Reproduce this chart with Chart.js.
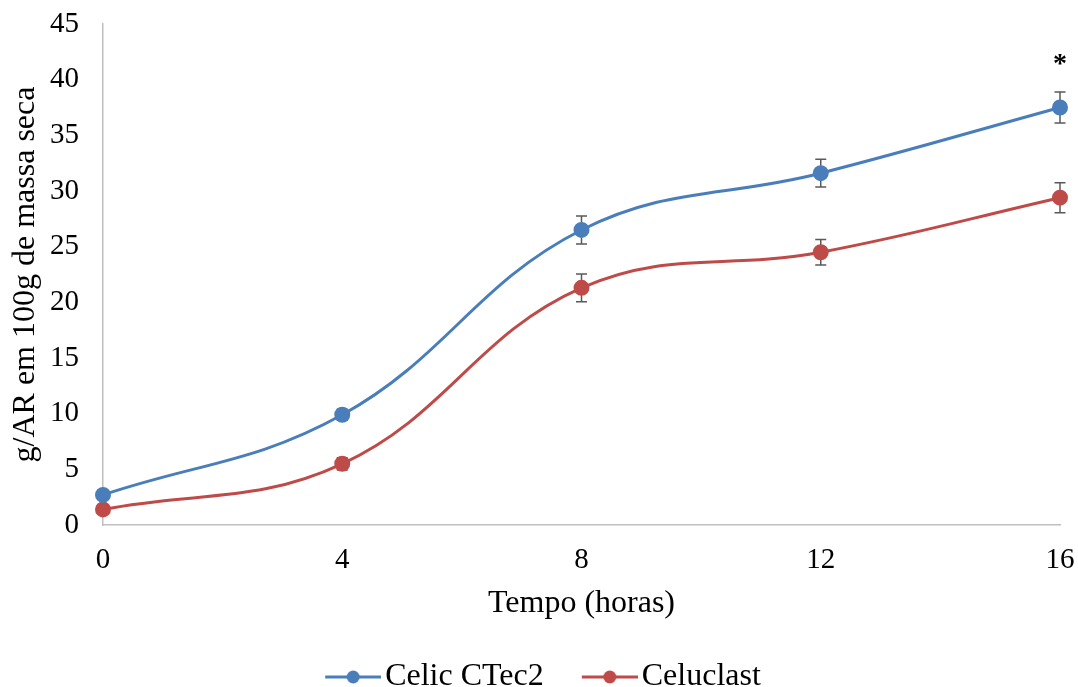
<!DOCTYPE html>
<html>
<head>
<meta charset="utf-8">
<script src="https://cdn.jsdelivr.net/npm/chart.js@4.4.1/dist/chart.umd.min.js"></script>
<style>
  html, body { margin: 0; padding: 0; background: #fff; }
  #wrap { width: 1078px; height: 687px; }
</style>
</head>
<body>
<div id="wrap"><canvas id="myChart" width="1078" height="687"></canvas></div>
<script>
const horas = [0, 4, 8, 12, 16]
const celicCTec2 = [2.7, 9.9, 26.5, 31.6, 37.5]
const celicErro = [0.15, 0.5, 1.25, 1.25, 1.4]
const celuclast = [1.4, 5.5, 21.3, 24.5, 29.4]
const celuclastErro = [0.15, 0.55, 1.25, 1.15, 1.35]
const yTicks = [0, 5, 10, 15, 20, 25, 30, 35, 40, 45]

const azul = '#4A7EBB'
const vermelho = '#BE4B48'
const serif = "'Liberation Serif', 'Times New Roman', serif"

const ctx = document.getElementById('myChart').getContext('2d')

// icone da legenda: linha com bolinha (margem transparente a esquerda)
function legendIcon(color) {
    const c = document.createElement('canvas')
    c.width = 106
    c.height = 16
    const g = c.getContext('2d')
    g.strokeStyle = color
    g.lineWidth = 3
    g.beginPath()
    g.moveTo(50, 8)
    g.lineTo(106, 8)
    g.stroke()
    g.fillStyle = color
    g.beginPath()
    g.arc(78, 8, 6.5, 0, Math.PI * 2)
    g.fill()
    return c
}

const errors = [celicErro, celuclastErro]

const errorBars = {
    id: 'errorBars',
    afterLayout(chart) {
        // compensa a margem transparente do primeiro icone
        chart.legend.left -= 6
        chart.legend.right -= 6
    },
    beforeDatasetsDraw(chart) {
        const { ctx, scales: { x, y } } = chart
        ctx.save()
        ctx.strokeStyle = '#595959'
        ctx.lineWidth = 1.5
        chart.data.datasets.forEach((ds, i) => {
            ds.data.forEach((pt, j) => {
                const px = x.getPixelForValue(pt.x)
                const top = y.getPixelForValue(pt.y + errors[i][j])
                const bot = y.getPixelForValue(pt.y - errors[i][j])
                ctx.beginPath()
                ctx.moveTo(px, top); ctx.lineTo(px, bot)
                ctx.moveTo(px - 5.5, top); ctx.lineTo(px + 5.5, top)
                ctx.moveTo(px - 5.5, bot); ctx.lineTo(px + 5.5, bot)
                ctx.stroke()
            })
        })
        // asterisco acima do ultimo ponto
        const last = horas.length - 1
        ctx.fillStyle = '#000'
        ctx.font = "bold 28px " + serif
        ctx.textAlign = 'center'
        ctx.textBaseline = 'middle'
        ctx.fillText('*', x.getPixelForValue(horas[last]), y.getPixelForValue(celicCTec2[last] + celicErro[last]) - 27)
        ctx.restore()
    }
}

const myChart = new Chart(ctx, {
    type: 'line',
    data: {
        datasets: [{
            label: 'Celic CTec2',
            data: horas.map((h, i) => ({ x: h, y: celicCTec2[i] })),
            borderColor: azul,
            backgroundColor: azul,
            borderWidth: 3,
            pointRadius: 6.5,
            pointHoverRadius: 6.5,
            tension: 0.4,
            clip: false
        }, {
            label: 'Celuclast',
            data: horas.map((h, i) => ({ x: h, y: celuclast[i] })),
            borderColor: vermelho,
            backgroundColor: vermelho,
            borderWidth: 3,
            pointRadius: 6.5,
            pointHoverRadius: 6.5,
            tension: 0.4,
            clip: false
        }]
    },
    options: {
        responsive: false,
        animation: false,
        layout: { padding: { left: 0, right: 18, top: 24, bottom: -16 } },
        plugins: {
            tooltip: { enabled: false },
            legend: {
                position: 'bottom',
                labels: {
                    color: '#000',
                    font: { family: serif, size: 32 },
                    usePointStyle: true,
                    pointStyleWidth: 82,
                    boxHeight: 16,
                    padding: 0,
                    generateLabels(chart) {
                        return chart.data.datasets.map((ds, i) => ({
                            text: ds.label,
                            pointStyle: legendIcon(ds.borderColor),
                            fillStyle: ds.borderColor,
                            strokeStyle: ds.borderColor,
                            lineWidth: 0,
                            datasetIndex: i
                        }))
                    }
                }
            }
        },
        scales: {
            x: {
                type: 'linear',
                min: 0,
                max: 16,
                afterBuildTicks(scale) { scale.ticks = horas.map(v => ({ value: v })) },
                grid: { display: true, drawOnChartArea: false, drawTicks: true, tickLength: 18, tickColor: 'rgba(0,0,0,0)', color: 'rgba(0,0,0,0)' },
                border: { color: '#BFBFBF', width: 1.5 },
                ticks: { color: '#000', font: { family: serif, size: 29 }, padding: 0 },
                title: { display: true, text: 'Tempo (horas)', color: '#000', font: { family: serif, size: 32 }, padding: { top: 14, bottom: 38 } },
                afterFit(scale) { scale.height = 136 }
            },
            y: {
                min: 0,
                max: 45,
                afterBuildTicks(scale) { scale.ticks = yTicks.map(v => ({ value: v })) },
                grid: { display: true, drawOnChartArea: false, drawTicks: true, tickLength: 24, tickColor: 'rgba(0,0,0,0)', color: 'rgba(0,0,0,0)' },
                border: { color: '#BFBFBF', width: 1.5 },
                ticks: { color: '#000', font: { family: serif, size: 29 }, padding: 0 },
                title: { display: true, text: 'g/AR em 100g de massa seca', color: '#000', font: { family: serif, size: 32 }, padding: { top: 6, bottom: 0 } },
                afterFit(scale) { scale.width = 103 }
            }
        }
    },
    plugins: [errorBars]
})
</script>
</body>
</html>
